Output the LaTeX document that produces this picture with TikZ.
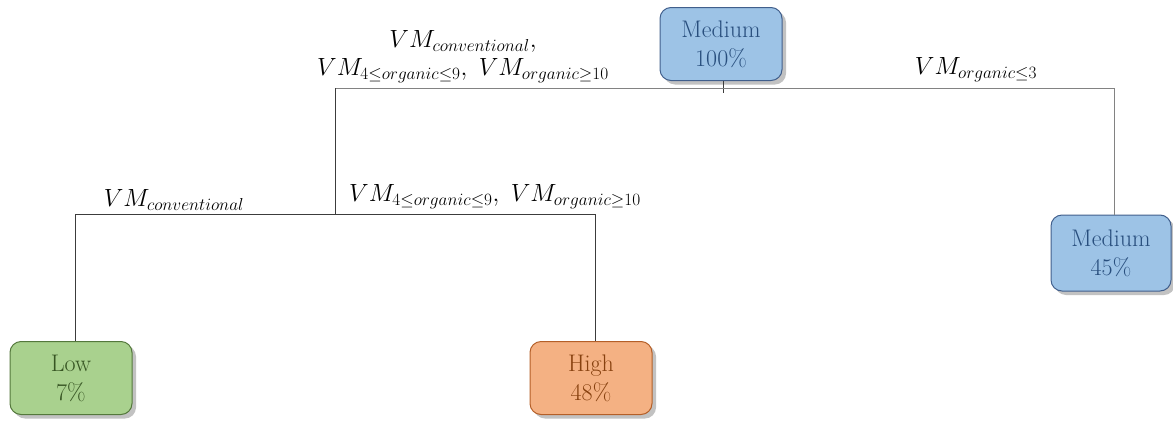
\documentclass[tikz,border=0pt]{standalone}
\usepackage{amsmath,amssymb}
\usetikzlibrary{shadows}
\definecolor{bfill}{RGB}{157,195,230}
\definecolor{bdraw}{RGB}{65,95,140}
\definecolor{btext}{RGB}{40,78,125}
\definecolor{gfill}{RGB}{169,209,142}
\definecolor{gdraw}{RGB}{84,120,60}
\definecolor{gtext}{RGB}{55,85,35}
\definecolor{ofill}{RGB}{244,177,131}
\definecolor{odraw}{RGB}{180,95,40}
\definecolor{otext}{RGB}{135,65,15}
\definecolor{linec}{RGB}{60,60,60}
\definecolor{linel}{RGB}{130,130,130}
\tikzset{
  leaf/.style={rounded corners=11pt, line width=1pt, minimum width=122pt, minimum height=73pt,
    align=center, font=\fontsize{24}{29}\selectfont,
    drop shadow={shadow xshift=4pt, shadow yshift=-4pt, opacity=0.4, fill=black!60}},
  bluebox/.style={leaf, fill=bfill, draw=bdraw, text=btext},
  greenbox/.style={leaf, fill=gfill, draw=gdraw, text=gtext},
  orangebox/.style={leaf, fill=ofill, draw=odraw, text=otext},
  edge/.style={draw=linec, line width=0.9pt},
  edgel/.style={draw=linel, line width=1pt},
  lab/.style={font=\fontsize{24}{28}\selectfont, inner sep=0pt, align=center}
}
\begin{document}
\begin{tikzpicture}[x=1pt,y=-1pt]
\useasboundingbox (0,0) rectangle (1173,421);
\node[bluebox] (root) at (721,44) {Medium\\100\%};
\node[bluebox, minimum height=76pt, minimum width=120pt] (m45) at (1111,253) {Medium\\45\%};
\node[greenbox] (low) at (71,378) {Low\\7\%};
\node[orangebox] (high) at (591,378) {High\\48\%};

\coordinate (jr) at (723,88);
\coordinate (jl) at (335,88);
\coordinate (jrr) at (1114,88);
\coordinate (j2) at (335,214);
\coordinate (j2l) at (75,214);
\coordinate (j2r) at (595,214);

\draw[edge] (root.south -| jr) -- (723,93);
\draw[edgel] (jl) -- (jrr) -- (m45.north -| jrr);
\draw[edge] (jl) -- (j2);
\draw[edge] (j2l) -- (j2r);
\draw[edge] (j2l) -- (low.north -| j2l);
\draw[edge] (j2r) -- (high.north -| j2r);

\node[lab] (t1) at (463,57) {$VM_{conventional},$\\[0pt]$VM_{4\leq organic\leq 9},\ VM_{organic\geq 10}$};
\node[lab] (t2) at (976,70) {$VM_{organic\leq 3}$};
\node[lab] (t3) at (174,200) {$VM_{conventional}$};
\node[lab] (t4) at (495,197) {$VM_{4\leq organic\leq 9},\ VM_{organic\geq 10}$};
\end{tikzpicture}
\end{document}
